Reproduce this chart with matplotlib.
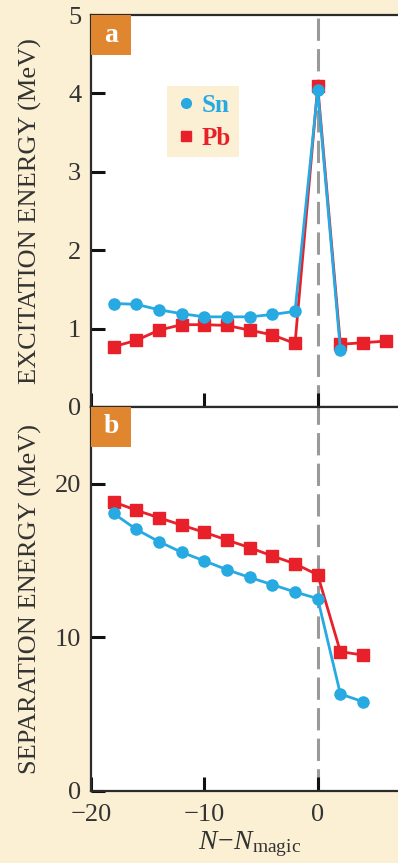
import matplotlib
matplotlib.use("Agg")
import matplotlib.pyplot as plt
from matplotlib.patches import Rectangle

# ---- data ----
x_sn_a = [-18, -16, -14, -12, -10, -8, -6, -4, -2, 0, 2]
sn_exc = [1.32, 1.31, 1.24, 1.19, 1.15, 1.15, 1.15, 1.18, 1.22, 4.04, 0.73]
x_pb_a = [-18, -16, -14, -12, -10, -8, -6, -4, -2, 0, 2, 4, 6]
pb_exc = [0.77, 0.85, 0.98, 1.05, 1.05, 1.04, 0.98, 0.92, 0.81, 4.09, 0.80, 0.82, 0.84]

x_b = [-18, -16, -14, -12, -10, -8, -6, -4, -2, 0, 2, 4]
sn_sep = [18.06, 17.02, 16.22, 15.53, 14.97, 14.39, 13.89, 13.42, 12.94, 12.51, 6.29, 5.79]
pb_sep = [18.81, 18.27, 17.78, 17.30, 16.83, 16.33, 15.83, 15.29, 14.78, 14.06, 9.05, 8.83]

top_yticks = [0, 1, 2, 3, 4, 5]
bot_yticks = [0, 10, 20]
xticks = [-20, -10, 0]
xtick_labels = ["\u221220", "\u221210", "0"]

# ---- style ----
BG = "#FBF0D4"
BLUE = "#27A9E1"
RED = "#E8202A"
ORANGE = "#E0862F"
SPINE = "#2b2b2b"
TXT = "#333333"
SERIF = ["Liberation Serif", "DejaVu Serif"]
plt.rcParams["font.family"] = SERIF
plt.rcParams["mathtext.fontset"] = "custom"
plt.rcParams["mathtext.rm"] = "Liberation Serif"
plt.rcParams["mathtext.it"] = "Liberation Serif:italic"

fig = plt.figure(figsize=(3.98, 8.63), dpi=100, facecolor=BG)
L, W = 0.2286, 0.7975
ax1 = fig.add_axes([L, 0.5284, W, 0.9826 - 0.5284])
ax2 = fig.add_axes([L, 0.0840, W, 0.5284 - 0.0840])

for ax in (ax1, ax2):
    ax.set_facecolor("white")
    ax.set_xlim(-20, 8)
    for s in ax.spines.values():
        s.set_color(SPINE)
        s.set_linewidth(1.6)
    ax.spines["right"].set_visible(False)
    ax.tick_params(direction="in", length=10, width=2.2, color="#111111",
                   labelsize=19, labelcolor=TXT)
    ax.tick_params(axis="y", pad=7)
    ax.tick_params(axis="x", pad=10)
    ax.set_xticks(xticks)
    ax.axvline(0, color="#9a9a9a", lw=2.2, ls=(0, (7.3, 2.7)), zorder=1)

ax1.set_ylim(0, 5)
ax1.set_yticks(top_yticks)
ax1.tick_params(axis="x", labelbottom=False)
ax2.set_ylim(0, 25)
ax2.set_yticks(bot_yticks)
ax2.set_xticklabels(xtick_labels)

ax1.plot(x_pb_a, pb_exc, color=RED, marker="s", ms=8.5, lw=2.0, zorder=3)
ax1.plot(x_sn_a, sn_exc, color=BLUE, marker="o", ms=8, lw=2.0, zorder=4)
ax2.plot(x_b, pb_sep, color=RED, marker="s", ms=8.5, lw=2.0, zorder=3)
ax2.plot(x_b, sn_sep, color=BLUE, marker="o", ms=8, lw=2.0, zorder=4)

label_x = (30 - 91) / 317.4
for ax, lab in ((ax1, "EXCITATION ENERGY (MeV)"), (ax2, "SEPARATION ENERGY (MeV)")):
    ax.set_ylabel(lab, fontsize=19, color=TXT)
    ax.yaxis.set_label_coords(label_x, 0.5)
    ax.yaxis.label.set_verticalalignment("center")
ax2.set_xlabel(r"$N\!-\!N_{\mathrm{magic}}$", fontsize=20, color=TXT, labelpad=2)

# panel labels (40x40 px boxes at the top-left corner)
for ax, lab in ((ax1, "a"), (ax2, "b")):
    bw = 40 / 317.4
    bh = 40 / (ax.get_position().height * 863)
    ax.add_patch(Rectangle((0, 1 - bh), bw, bh, transform=ax.transAxes,
                           facecolor=ORANGE, edgecolor="none", zorder=5, clip_on=False))
    ax.text(bw / 2, 1 - bh / 2, lab, transform=ax.transAxes, ha="center", va="center",
            fontsize=20, fontweight="bold", color="white", zorder=6)

# legend
ax1.legend(handles=[
    plt.Line2D([], [], color=BLUE, marker="o", ls="none", ms=7, label="Sn"),
    plt.Line2D([], [], color=RED, marker="s", ls="none", ms=7.5, label="Pb")],
    loc="upper left", bbox_to_anchor=((167 - 91) / 317.4, (407 - 86) / 392),
    borderaxespad=0, frameon=True, fancybox=False,
    facecolor=BG, edgecolor="none", framealpha=1,
    prop={"size": 18, "weight": "bold"},
    handletextpad=0.2, handlelength=0.9, borderpad=0.3, labelspacing=0.4,
    labelcolor=[BLUE, RED])

fig.savefig("out.png", dpi=100, facecolor=BG)
